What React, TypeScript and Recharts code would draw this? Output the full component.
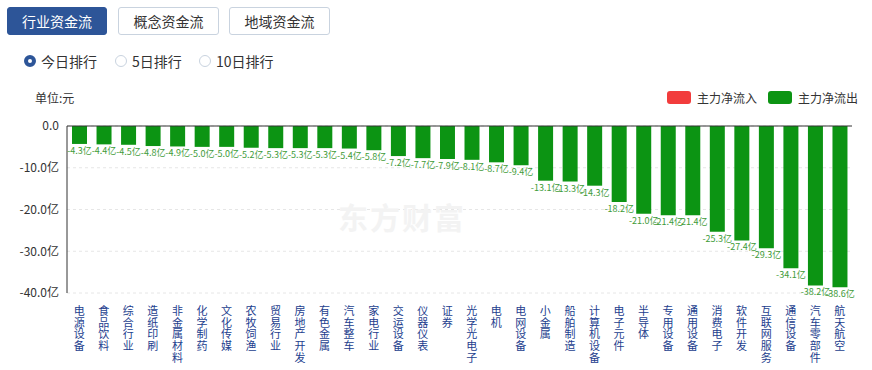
import {Bar, BarChart, CartesianGrid, LabelList, ReferenceLine, XAxis, YAxis} from 'recharts';

const industries = [
  '电源设备', '食品饮料', '综合行业', '造纸印刷', '非金属材料', '化学制药', '文化传媒', '农牧饲渔',
  '贸易行业', '房地产开发', '有色金属', '汽车整车', '家电行业', '交运设备', '仪器仪表', '证券',
  '光学光电子', '电机', '电网设备', '小金属', '船舶制造', '计算机设备', '电子元件', '半导体',
  '专用设备', '通用设备', '消费电子', '软件开发', '互联网服务', '通信设备', '汽车零部件', '航天航空',
];

const netFlow = [
  -4.3, -4.4, -4.5, -4.8, -4.9, -5.0, -5.0, -5.2, -5.3, -5.3, -5.3, -5.4, -5.8, -7.2, -7.7, -7.9,
  -8.1, -8.7, -9.4, -13.1, -13.3, -14.3, -18.2, -21.0, -21.4, -21.4, -25.3, -27.4, -29.3, -34.1, -38.2, -38.6,
];

const yTicks = [0, -10, -20, -30, -40];
const tabs = ['行业资金流', '概念资金流', '地域资金流'];
const ranks = ['今日排行', '5日排行', '10日排行'];
const legendItems = [
  {name: '主力净流入', color: '#f23c3c'},
  {name: '主力净流出', color: '#0c9413'},
];

const chartData = industries.map((name, i) => ({name, value: netFlow[i]}));

const fontFamily = '"Microsoft YaHei", "Noto Sans CJK SC", sans-serif';

function VerticalTick(props: any) {
  const {x, y, payload} = props;
  const chars = String(payload.value).split('');
  return (
    <text x={x} y={y} textAnchor="middle" fontSize={11} fill="#23408e" fontFamily={fontFamily}>
      {chars.map((c, i) => (
        <tspan key={i} x={x} dy={i === 0 ? 14 : 11.7}>{c}</tspan>
      ))}
    </text>
  );
}

function ValueLabel(props: any) {
  const {x, y, width, height, value} = props;
  const bottom = Math.max(y, y + height);
  return (
    <text x={x + width / 2} y={bottom + 10} textAnchor="middle" fontSize={9} fill="#3e9b38" fontFamily={fontFamily}>
      {`${Number(value).toFixed(1)}亿`}
    </text>
  );
}

export default function App() {
  return (
    <div style={{position: 'absolute', left: 0, top: 0, width: 872, height: 370, background: '#fff', fontFamily}}>
      <BarChart width={872} height={370} data={chartData} margin={{top: 126, right: 20, bottom: 0, left: 0}}>
        <CartesianGrid horizontal vertical={false} strokeDasharray="3 3" stroke="#e6e6e6" />
        <XAxis dataKey="name" interval={0} axisLine={false} tickLine={false} height={77} tick={<VerticalTick />} />
        <YAxis
          domain={[-40, 0]}
          ticks={yTicks}
          width={67}
          tickLine={false}
          axisLine={{stroke: '#333'}}
          tick={{fontSize: 12, fill: '#333', fontFamily}}
          tickFormatter={(v: number) => (v === 0 ? '0.0' : `${v.toFixed(1)}亿`)}
        />
        <ReferenceLine y={0} stroke="#333" />
        <Bar dataKey="value" fill="#0c9413" barSize={15} isAnimationActive={false}>
          <LabelList dataKey="value" content={<ValueLabel />} />
        </Bar>
      </BarChart>

      <div style={{position: 'absolute', left: 338, top: 194, fontSize: 30, fontWeight: 'bold', color: '#f3f3f3', letterSpacing: 2, pointerEvents: 'none'}}>
        东方财富
      </div>

      {tabs.map((t, i) => (
        <div
          key={t}
          style={{
            position: 'absolute', left: 7 + i * 111, top: 7, width: i === 0 ? 100 : 101, height: 28, boxSizing: 'border-box',
            borderRadius: 3, border: i === 0 ? '1px solid #2d5598' : '1px solid #c9d3df',
            background: i === 0 ? '#2d5598' : '#fff', color: i === 0 ? '#fff' : '#333',
            fontSize: 14, lineHeight: '26px', textAlign: 'center',
          }}
        >
          {t}
        </div>
      ))}

      {ranks.map((r, i) => {
        const left = [24, 115, 199][i];
        return (
          <div key={r} style={{position: 'absolute', left, top: 52, height: 18, display: 'flex', alignItems: 'center', fontSize: 14, color: '#333'}}>
            <span
              style={{
                display: 'inline-block', width: 12, height: 12, borderRadius: '50%', boxSizing: 'border-box', marginRight: 5,
                border: i === 0 ? '4px solid #2d5598' : '1px solid #c9d3df', background: '#fff',
              }}
            />
            {r}
          </div>
        );
      })}

      <div style={{position: 'absolute', left: 35, top: 89, fontSize: 12, color: '#333'}}>单位:元</div>

      {legendItems.map((item, i) => (
        <div key={item.name} style={{position: 'absolute', left: 667 + i * 101, top: 89, display: 'flex', alignItems: 'center', fontSize: 12, color: '#333'}}>
          <span style={{display: 'inline-block', width: 24, height: 13, borderRadius: 3, background: item.color, marginRight: 6}} />
          {item.name}
        </div>
      ))}
    </div>
  );
}
